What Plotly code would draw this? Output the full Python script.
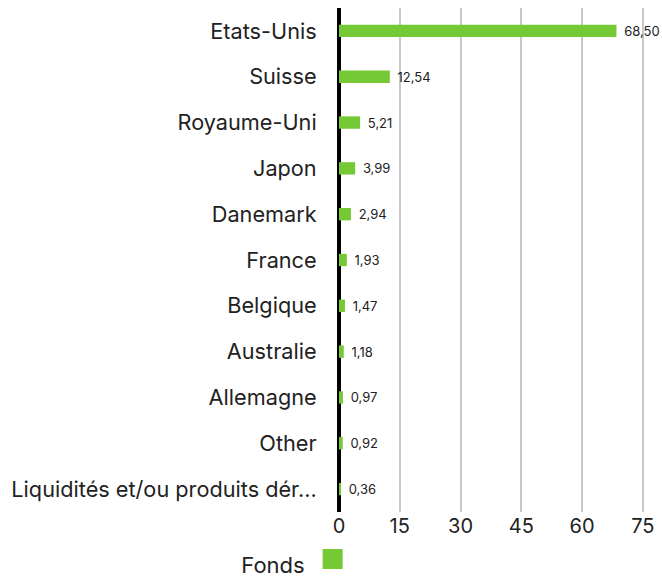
import plotly.graph_objects as go

categories = ["Etats-Unis", "Suisse", "Royaume-Uni", "Japon", "Danemark", "France",
              "Belgique", "Australie", "Allemagne", "Other",
              "Liquidités et/ou produits dér..."]
values = [68.50, 12.54, 5.21, 3.99, 2.94, 1.93, 1.47, 1.18, 0.97, 0.92, 0.36]
tick_vals = [0, 15, 30, 45, 60, 75]
labels = [f"{v:.2f}".replace(".", ",") for v in values]

FONT = "Inter, sans-serif"
GREEN = "#74C935"

fig = go.Figure()
fig.add_trace(go.Bar(
    y=categories, x=values, orientation="h",
    marker=dict(color=GREEN, line=dict(width=0)),
    width=0.27,
    text=labels, texttemplate="\u2009\u2009%{text}",
    textposition="outside", cliponaxis=False, constraintext="none",
    textfont=dict(size=13, color="#222222", family=FONT),
    showlegend=False, hoverinfo="skip",
))
# legend swatch
fig.add_trace(go.Scatter(
    x=[None], y=[None], mode="markers", name="",
    marker=dict(symbol="square", size=16, color=GREEN, line=dict(color=GREEN, width=4)),
    showlegend=True,
))

fig.update_layout(
    width=662, height=579,
    margin=dict(l=339, r=18, t=8, b=67, autoexpand=False),
    paper_bgcolor="white", plot_bgcolor="white",
    font=dict(family=FONT, color="#222222"),
    showlegend=True,
    legend=dict(orientation="h", x=-0.327, xanchor="left", y=-0.103, yanchor="middle",
                title=dict(text="Fonds", font=dict(size=22, family=FONT, color="#222222")),
                font=dict(size=1), itemsizing="trace", itemwidth=30),
    xaxis=dict(range=[0, 75.3], tickvals=tick_vals, showgrid=True, gridcolor="#c8c8c8",
               gridwidth=2, zeroline=True, zerolinecolor="black", zerolinewidth=4,
               tickfont=dict(size=20, family=FONT, color="#222222"), showline=False,
               ticks="", automargin=False),
    yaxis=dict(autorange="reversed", tickfont=dict(size=21.7, family=FONT, color="#222222"),
               ticks="outside", ticklen=17, tickcolor="rgba(0,0,0,0)", showgrid=False,
               showline=False, automargin=False),
)

fig.write_html("out.html", config={"displayModeBar": False},
               post_script="document.body.style.margin='0';")
